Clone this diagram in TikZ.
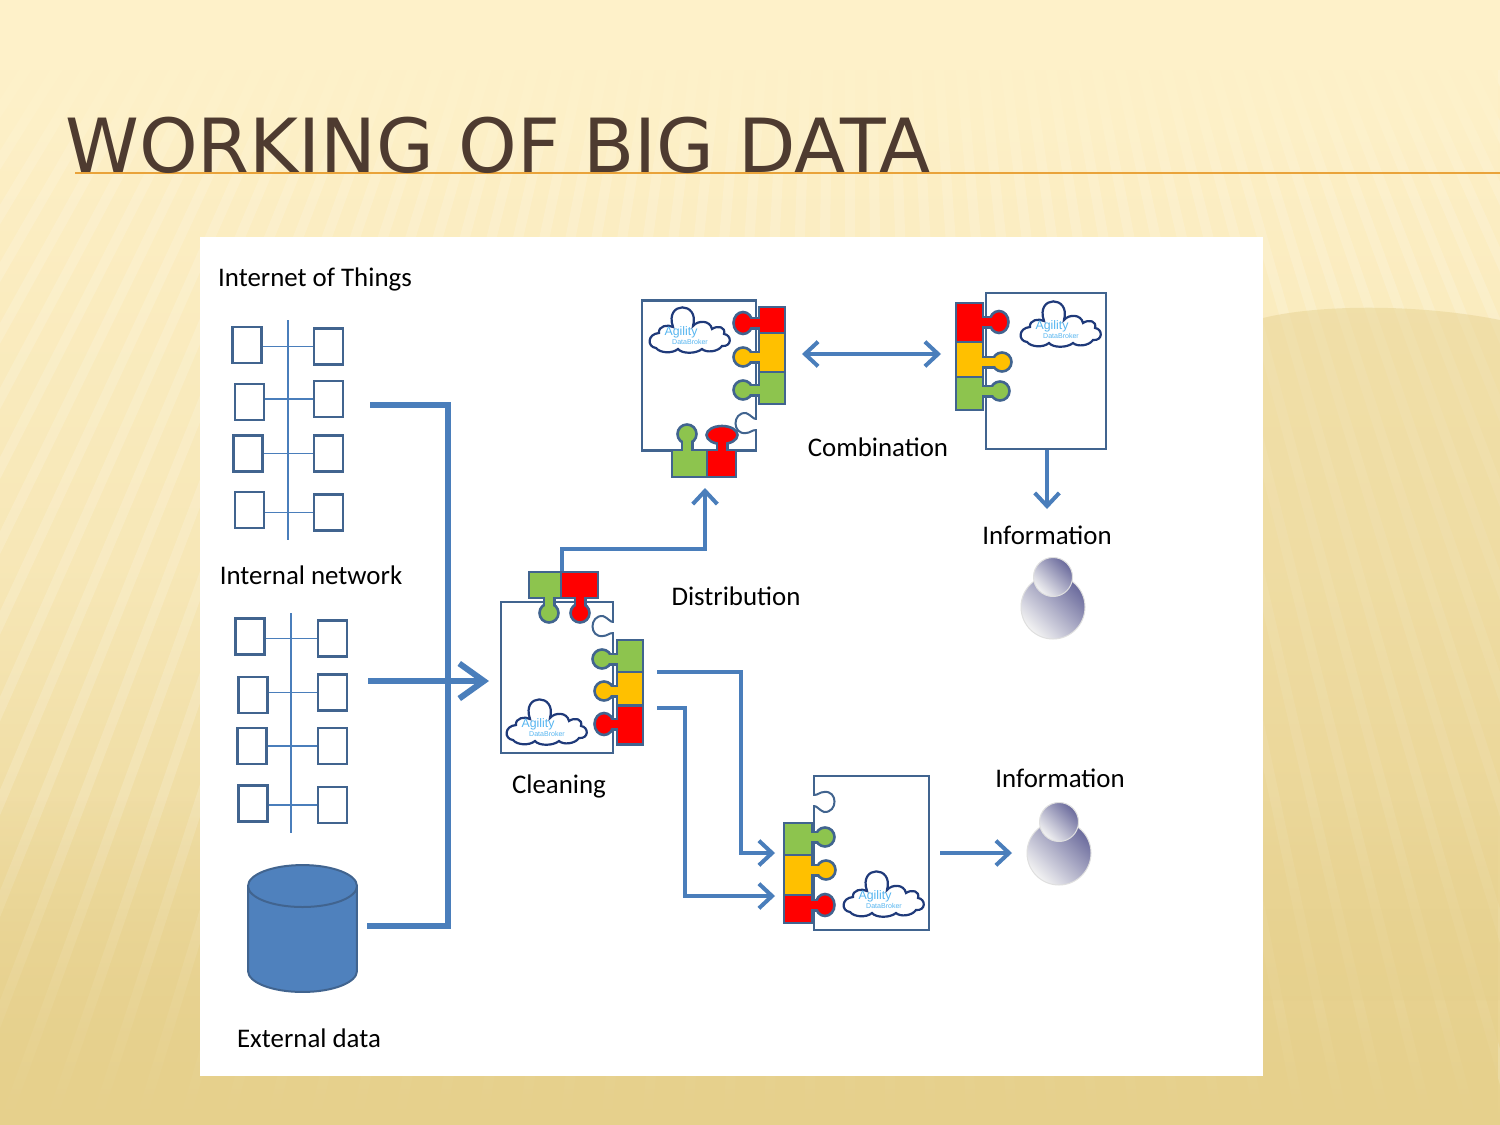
\documentclass[tikz,border=0pt]{standalone}
\usepackage{fontspec}
\setmainfont{Carlito}
\newfontfamily\titlefont{DejaVu Sans}
\newfontfamily\brandfont{Liberation Sans}
\usetikzlibrary{shapes, shapes.geometric, arrows.meta, fadings, positioning}

\definecolor{paper}{HTML}{FEF1C9}
\definecolor{sand}{HTML}{E6D08C}
\definecolor{titlebrown}{HTML}{4E3B30}
\definecolor{ruleorange}{HTML}{E9A33A}
\definecolor{flowblue}{HTML}{4A7EBB}
\definecolor{edgeblue}{HTML}{41648F}
\definecolor{tankblue}{HTML}{4F81BD}
\definecolor{puzzlered}{HTML}{FF0000}
\definecolor{puzzleyellow}{HTML}{FFC000}
\definecolor{puzzlegreen}{HTML}{8DC44E}
\definecolor{cloudnavy}{HTML}{1F3A7A}
\definecolor{cloudsky}{HTML}{55B5F0}
\definecolor{persondark}{HTML}{6A6A9C}
\definecolor{personlight}{HTML}{F3F3F3}

\newcommand{\px}{*0.02cm}

\tikzset{
    label text/.style={font=\fontsize{15.3}{17}\selectfont, text=black, inner sep=0pt},
    hostbox/.style={draw=edgeblue, line width=2.4\px, fill=white, rectangle, inner sep=0pt, minimum width=29\px, minimum height=36\px},
    rung/.style={draw=flowblue, line width=1.3\px},
    docpage/.style={draw=edgeblue, line width=2.4\px, fill=white, rectangle, inner sep=0pt},
    puzzle/.style={draw=edgeblue, line width=2.6\px, rectangle, inner sep=0pt},
    knob/.style={draw=edgeblue, line width=2.6\px, ellipse, inner sep=0pt, minimum width=19\px, minimum height=19\px},
    busline/.style={draw=flowblue, line width=6\px},
    flow/.style={draw=flowblue, line width=4\px, -{Straight Barb[length=7.5pt,width=14pt]}},
    person/.style={circle, inner sep=0pt, draw=gray!25, line width=1\px, left color=persondark, right color=personlight, shading angle=-45},
    agility/.pic={
        \draw[draw=cloudnavy, line width=2.2\px, fill=white]
            (8,41) .. controls (-1,40) and (-1,27) .. (11,26)
            .. controls (10,19) and (20,17) .. (25,20)
            .. controls (16,-6) and (52,-6) .. (45,19)
            .. controls (50,13) and (62,13) .. (64,22)
            .. controls (70,18) and (78,20) .. (76,27)
            .. controls (84,28) and (84,40) .. (74,39)
            .. controls (70,45) and (58,46) .. (54,42)
            .. controls (48,47) and (34,47) .. (30,42)
            .. controls (24,47) and (12,46) .. cycle;
        \node (-name) [text=cloudsky, inner sep=0pt, font=\brandfont\fontsize{7}{7}\selectfont] at (33,25) {Agility};
        \node (-sub) [text=cloudsky, inner sep=0pt, font=\brandfont\fontsize{4}{4}\selectfont] at (42,35) {DataBroker};
    }
}

% name, colour, body centre, width, height, knob centre, neck end
\newcommand{\tabpiece}[8][]{%
    \draw[draw=edgeblue, line width=13\px] #7 -- #8;
    \node (#2-knob) [knob, fill=#3, #1] at #7 {};
    \node (#2) [puzzle, fill=#3, minimum width=#5\px, minimum height=#6\px] at #4 {};
    \draw[draw=#3, line width=8.5\px] #7 -- #8;
}

% empty socket cut in a page edge
\newcommand{\socket}[2]{%
    \draw[draw=white, line width=4\px, shift={#1}, rotate=#2] (0,-3) -- (0,6);
    \draw[draw=edgeblue, line width=2\px, shift={#1}, rotate=#2]
        (0,-4) .. controls (-3,-4) and (-5,-8) .. (-10,-10)
        .. controls (-24,-11) and (-24,12) .. (-10,10)
        .. controls (-6,10) and (-4,7) .. (0,7);
}

\begin{document}
\begin{tikzpicture}[x=0.02cm, y=-0.02cm]
        \useasboundingbox (0,0) rectangle (1500,1125);

        % slide background
        \fill[bottom color=sand, top color=paper, middle color=paper!70!sand] (0,0) rectangle (1500,1125);
        \begin{scope}
            \clip (0,60) rectangle (1500,1125);
            \foreach \ang in {-36,-35,...,30}
                \draw[white, opacity=0.16, line width=10\px] (850,-1200) -- ++(270+\ang:2900\px);
        \end{scope}
        \fill[paper] (0,0) rectangle (1500,70);
        \fill[paper, path fading=south] (0,70) rectangle (1500,190);
        \fill[sand, path fading=north] (0,800) rectangle (1500,1125);
        \fill[sand, opacity=0.45] (1263,318) .. controls (1320,304) and (1420,304) .. (1500,320) -- (1500,1000) -- (1263,1000) -- cycle;

        % title
        \draw[draw=ruleorange, line width=2.6\px] (75,173) -- (1500,173);
        \node (title) [anchor=base west, inner sep=0pt, text=titlebrown, font=\titlefont\fontsize{42.5}{50}\selectfont] at (65,173) {WORKING OF BIG DATA};

        \node (panel) [fill=white, rectangle, inner sep=0pt, minimum width=1063\px, minimum height=839\px] at (731.5,656.5) {};

        % labels
        \node (iot) [label text] at (315,279) {Internet of Things};
        \node (intranet) [label text] at (311,575) {Internal network};
        \node (external) [label text] at (309,1038) {External data};
        \node (combination) [label text] at (878,447) {Combination};
        \node (distribution) [label text] at (736,596) {Distribution};
        \node (cleaning) [label text] at (559,786.5) {Cleaning};
        \node (infoA) [label text] at (1047,535) {Information};
        \node (infoB) [label text] at (1060,778) {Information};

        % internet of things
        \coordinate (iotTop) at (288,320);
        \coordinate (iotEnd) at (288,540);
        \draw[rung] (iotTop) -- (iotEnd);
        \foreach \idx/\lx/\ly/\ry in {1/247/345/346.5, 2/249.5/402/399, 3/248/453.5/453.5, 4/249.5/510/512.5} {
            \node (iotL\idx) [hostbox] at (\lx,\ly) {};
            \node (iotR\idx) [hostbox] at (328.5,\ry) {};
            \draw[rung] (iotL\idx.east |- iotR\idx) -- (iotR\idx);
        }

        % internal network
        \coordinate (netTop) at (291,613);
        \coordinate (netEnd) at (291,833);
        \draw[rung] (netTop) -- (netEnd);
        \foreach \idx/\lx/\ly/\ry in {1/250/636.5/638.5, 2/253/695/692.5, 3/252/746/746, 4/253/803.5/805} {
            \node (netL\idx) [hostbox] at (\lx,\ly) {};
            \node (netR\idx) [hostbox] at (332.5,\ry) {};
            \draw[rung] (netL\idx.east |- netR\idx) -- (netR\idx);
        }

        % external data
        \node (tank) [draw=edgeblue, line width=2\px, fill=tankblue, cylinder, shape border rotate=90, aspect=0.385, inner sep=0pt] at (302.5,939.5) {\phantom{\rule{2.18cm}{1.26cm}}};

        % source buses
        \coordinate (iotOut) at (370,405);
        \coordinate (netOut) at (368,681);
        \coordinate (tankOut) at (367,926);
        \coordinate (busTop) at (447.5,405);
        \coordinate (busEnd) at (447.5,929);
        \coordinate (cleanIn) at (489,681);
        \draw[busline] (iotOut) -- (busTop) -- (busEnd);
        \draw[busline] (tankOut) -- (busEnd |- tankOut);
        \draw[busline, -{Straight Barb[length=14pt,width=20pt]}] (netOut) -- (cleanIn);

        % cleaning page
        \node (docC) [docpage, minimum width=112\px, minimum height=151\px] at (557,677.5) {};
        \socket{(613,626)}{0}
        \pic (cloudC) at (505,699) {agility};
        \tabpiece{greenCt}{puzzlegreen}{(545,585)}{32}{26}{(549,613)}{(549,590)}
        \tabpiece{redCt}{puzzlered}{(579.5,585)}{37}{26}{(580,613)}{(580,590)}
        \tabpiece{greenC}{puzzlegreen}{(630,656)}{26}{32}{(602,659)}{(630,659)}
        \tabpiece{yellowC}{puzzleyellow}{(630,689)}{26}{34}{(604,691)}{(630,691)}
        \tabpiece[minimum height=22\px]{redC}{puzzlered}{(630,725)}{26}{39}{(604,724)}{(630,724)}

        % combination pages
        \node (docA) [docpage, minimum width=114\px, minimum height=150\px] at (699,375.5) {};
        \socket{(756,423)}{0}
        \pic (cloudA) at (648,307) {agility};
        \tabpiece[minimum height=22\px]{redA}{puzzlered}{(772,320)}{26}{26}{(743,323)}{(772,323)}
        \tabpiece{yellowA}{puzzleyellow}{(772,352.5)}{26}{39}{(743,357)}{(772,357)}
        \tabpiece{greenA}{puzzlegreen}{(772,388)}{26}{32}{(743,390)}{(772,390)}
        \tabpiece{greenAb}{puzzlegreen}{(689.5,463.5)}{35}{27}{(687,434)}{(687,463)}
        \tabpiece[minimum width=31\px, minimum height=18\px]{redAb}{puzzlered}{(721.5,463.5)}{29}{27}{(722,435)}{(722,463)}

        \node (docB) [docpage, minimum width=120\px, minimum height=156\px] at (1046,371) {};
        \pic (cloudB) at (1019,301) {agility};
        \tabpiece[minimum height=22\px]{redB}{puzzlered}{(969.5,322.5)}{27}{39}{(999,322)}{(969,322)}
        \tabpiece{yellowB}{puzzleyellow}{(969.5,359.5)}{27}{35}{(1002,362)}{(969,362)}
        \tabpiece{greenB}{puzzlegreen}{(969.5,393.5)}{27}{33}{(1000,391)}{(969,391)}

        % delivery page
        \node (docD) [docpage, minimum width=115\px, minimum height=154\px] at (871.5,853) {};
        \socket{(814,802)}{180}
        \pic (cloudD) at (842,871) {agility};
        \tabpiece{greenD}{puzzlegreen}{(798,839)}{28}{32}{(825,837)}{(798,837)}
        \tabpiece{yellowD}{puzzleyellow}{(798,875)}{28}{40}{(826,870)}{(798,870)}
        \tabpiece[minimum height=22\px]{redD}{puzzlered}{(798,909)}{28}{28}{(825,905)}{(798,905)}

        % users
        \node (bodyA) [person, minimum size=64\px] at (1053,607) {};
        \node (headA) [person, minimum size=39\px] at (1053,577) {};
        \node (bodyB) [person, minimum size=64\px] at (1059,853) {};
        \node (headB) [person, minimum size=39\px] at (1059,822) {};

        % flows
        \coordinate (combL) at (802,354);
        \coordinate (combR) at (941,354);
        \coordinate (distTurn) at (705,549);
        \coordinate (distIn) at (705,488);
        \coordinate (infoIn) at (1047,509);
        \coordinate (feedA) at (657,672);
        \coordinate (feedB) at (657,708);
        \coordinate (feedAEnd) at (775,853);
        \coordinate (feedBEnd) at (775,896);
        \coordinate (feedATurn) at (741,672);
        \coordinate (feedBTurn) at (685,708);
        \coordinate (outEnd) at (1012,853);

        \draw[flow, {Straight Barb[length=7.5pt,width=14pt]}-{Straight Barb[length=7.5pt,width=14pt]}] (combL) -- (combR);
        \draw[flow] (greenCt.north east) |- (distTurn) -- (distIn);
        \draw[flow] (infoIn |- docB.south) -- (infoIn);
        \draw[flow] (feedA) -- (feedATurn) |- (feedAEnd);
        \draw[flow] (feedB) -- (feedBTurn) |- (feedBEnd);
        \draw[flow] (docD.east |- outEnd) ++(10,0) -- (outEnd);
    \end{tikzpicture}
\end{document}
